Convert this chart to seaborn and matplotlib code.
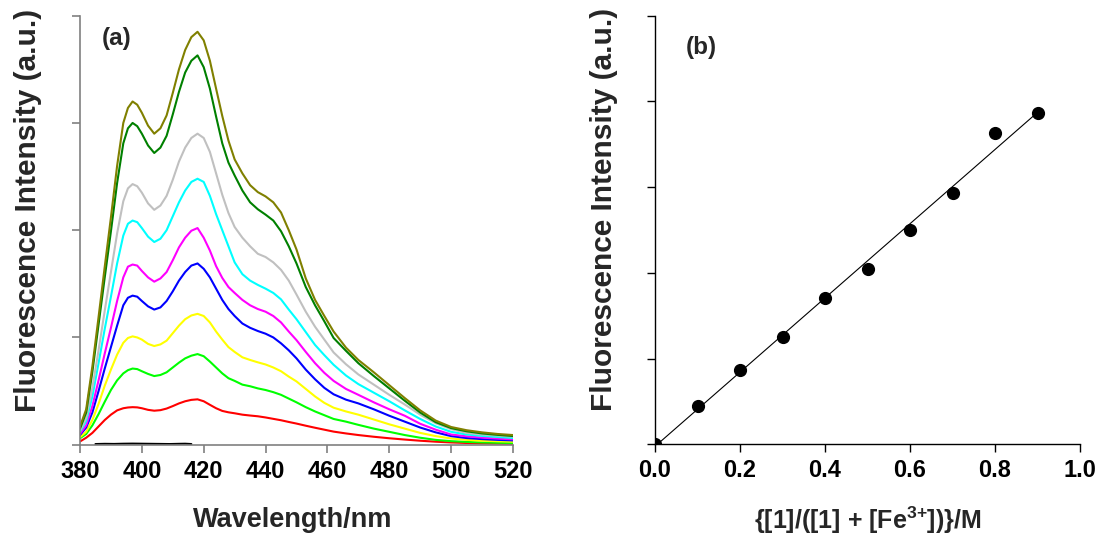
import numpy as np
import pandas as pd
import matplotlib
matplotlib.use("Agg")
import matplotlib.pyplot as plt
import seaborn as sns

# ---------------- data ----------------
# emission wavelengths (nm)
wavelength = [380, 382, 384, 386, 388, 390, 392, 394, 395.5, 397,
              398.5, 400, 402, 404, 406, 408, 410, 412, 414, 416, 418,
              420, 422, 424, 426, 428, 430, 432.5, 435, 437.5, 440,
              442.5, 445, 447.5, 450, 453, 456, 459, 462, 466, 470,
              475, 480, 485, 490, 495, 500, 505, 510, 515, 520]

# emission spectra at each mole fraction of [1]
em_01 = [0.03, 0.065, 0.11, 0.17, 0.23, 0.28, 0.32, 0.34, 0.347, 0.35,
         0.348, 0.34, 0.325, 0.317, 0.322, 0.337, 0.36, 0.385, 0.405, 0.418, 0.423,
         0.405, 0.372, 0.34, 0.315, 0.302, 0.293, 0.28, 0.272, 0.265, 0.254,
         0.241, 0.228, 0.212, 0.197, 0.177, 0.158, 0.14, 0.122, 0.105, 0.09,
         0.074, 0.06, 0.048, 0.037, 0.028, 0.021, 0.016, 0.012, 0.010, 0.008]
em_02 = [0.06, 0.10, 0.18, 0.285, 0.40, 0.51, 0.60, 0.665, 0.695, 0.71,
         0.705, 0.685, 0.66, 0.64, 0.65, 0.675, 0.72, 0.765, 0.805, 0.83, 0.845,
         0.825, 0.775, 0.72, 0.665, 0.62, 0.595, 0.56, 0.545, 0.525, 0.51,
         0.49, 0.465, 0.43, 0.395, 0.35, 0.31, 0.275, 0.24, 0.215, 0.185,
         0.15, 0.12, 0.09, 0.065, 0.045, 0.033, 0.026, 0.021, 0.018, 0.016]
em_03 = [0.07, 0.12, 0.23, 0.38, 0.55, 0.70, 0.84, 0.95, 0.995, 1.01,
         1.0, 0.98, 0.94, 0.92, 0.935, 0.97, 1.04, 1.11, 1.17, 1.205, 1.22,
         1.20, 1.14, 1.055, 0.98, 0.91, 0.865, 0.815, 0.79, 0.768, 0.748,
         0.72, 0.685, 0.635, 0.59, 0.52, 0.45, 0.39, 0.345, 0.31, 0.28,
         0.235, 0.19, 0.15, 0.11, 0.08, 0.058, 0.045, 0.037, 0.032, 0.028]
em_04 = [0.09, 0.16, 0.30, 0.50, 0.71, 0.91, 1.11, 1.30, 1.37, 1.39,
         1.38, 1.34, 1.29, 1.26, 1.28, 1.34, 1.43, 1.53, 1.61, 1.67, 1.69,
         1.64, 1.56, 1.455, 1.35, 1.265, 1.20, 1.13, 1.09, 1.06, 1.035,
         1.00, 0.945, 0.88, 0.805, 0.70, 0.61, 0.53, 0.47, 0.42, 0.385,
         0.33, 0.27, 0.215, 0.16, 0.115, 0.08, 0.062, 0.052, 0.045, 0.04]
em_05 = [0.10, 0.18, 0.36, 0.60, 0.85, 1.09, 1.34, 1.56, 1.66, 1.68,
         1.67, 1.62, 1.56, 1.52, 1.55, 1.61, 1.72, 1.84, 1.93, 1.995, 2.02,
         1.93, 1.81, 1.665, 1.555, 1.47, 1.415, 1.35, 1.30, 1.265, 1.24,
         1.20, 1.14, 1.055, 0.975, 0.865, 0.76, 0.67, 0.595, 0.52, 0.465,
         0.395, 0.33, 0.27, 0.195, 0.14, 0.095, 0.078, 0.066, 0.057, 0.05]
em_06 = [0.12, 0.22, 0.45, 0.76, 1.08, 1.38, 1.69, 1.95, 2.06, 2.09,
         2.075, 2.02, 1.94, 1.89, 1.92, 2.00, 2.13, 2.26, 2.37, 2.45, 2.48,
         2.45, 2.32, 2.15, 2.00, 1.85, 1.70, 1.59, 1.53, 1.49, 1.455,
         1.415, 1.355, 1.26, 1.17, 1.05, 0.93, 0.835, 0.745, 0.645, 0.565,
         0.485, 0.405, 0.32, 0.24, 0.17, 0.12, 0.095, 0.082, 0.072, 0.062]
em_07 = [0.13, 0.25, 0.53, 0.88, 1.25, 1.61, 1.97, 2.27, 2.39, 2.43,
         2.41, 2.35, 2.25, 2.19, 2.23, 2.32, 2.47, 2.64, 2.77, 2.86, 2.90,
         2.86, 2.73, 2.53, 2.33, 2.16, 2.03, 1.93, 1.85, 1.78, 1.75,
         1.70, 1.63, 1.53, 1.40, 1.24, 1.10, 0.98, 0.86, 0.75, 0.655,
         0.56, 0.465, 0.375, 0.28, 0.20, 0.145, 0.11, 0.095, 0.085, 0.075]
em_08 = [0.15, 0.30, 0.68, 1.12, 1.56, 1.99, 2.44, 2.81, 2.95, 3.00,
         2.97, 2.90, 2.79, 2.72, 2.77, 2.88, 3.08, 3.29, 3.47, 3.58, 3.63,
         3.52, 3.32, 3.06, 2.81, 2.63, 2.51, 2.37, 2.26, 2.195, 2.145,
         2.09, 1.99, 1.85, 1.69, 1.47, 1.30, 1.15, 0.995, 0.875, 0.76,
         0.64, 0.525, 0.41, 0.30, 0.21, 0.155, 0.125, 0.105, 0.092, 0.081]
em_09 = [0.17, 0.33, 0.73, 1.19, 1.66, 2.12, 2.60, 3.00, 3.14, 3.20,
         3.17, 3.095, 2.975, 2.90, 2.95, 3.07, 3.28, 3.50, 3.68, 3.80, 3.85,
         3.77, 3.58, 3.32, 3.065, 2.835, 2.66, 2.53, 2.42, 2.355, 2.315,
         2.26, 2.165, 2.00, 1.82, 1.55, 1.35, 1.20, 1.055, 0.905, 0.79,
         0.675, 0.555, 0.435, 0.32, 0.225, 0.165, 0.135, 0.115, 0.10, 0.09]

# blank (no fluorophore) trace
blank_wavelength = [385, 388, 391, 394, 397, 400, 403, 406, 409, 412, 414, 416]
blank_em = [0.006, 0.008, 0.007, 0.009, 0.010, 0.009, 0.008, 0.007, 0.006, 0.008, 0.009, 0.006]

spectra = [em_01, em_02, em_03, em_04, em_05, em_06, em_07, em_08, em_09]
fraction_labels = ["0.1", "0.2", "0.3", "0.4", "0.5", "0.6", "0.7", "0.8", "0.9"]
line_colors = ["#FF0000", "#00FF00", "#FFFF00", "#0000FF", "#FF00FF",
               "#00FFFF", "#C0C0C0", "#008000", "#808000"]

# Job's plot: mole fraction vs. intensity at 418 nm
mole_fraction = [0.0, 0.1, 0.2, 0.3, 0.4, 0.5, 0.6, 0.7, 0.8, 0.9]
intensity_418 = [0.0, 0.44, 0.87, 1.25, 1.71, 2.04, 2.50, 2.93, 3.63, 3.86]

x_ticks_a = [380, 400, 420, 440, 460, 480, 500, 520]
x_ticks_b = [0.0, 0.2, 0.4, 0.6, 0.8, 1.0]

# ---------------- style ----------------
sns.set_theme(style="ticks")
plt.rcParams["font.family"] = ["Liberation Sans", "DejaVu Sans"]
plt.rcParams["font.weight"] = "bold"
plt.rcParams["mathtext.fontset"] = "custom"
plt.rcParams["mathtext.rm"] = "Liberation Sans:bold"
plt.rcParams["mathtext.it"] = "Liberation Sans:bold"
plt.rcParams["mathtext.bf"] = "Liberation Sans:bold"
plt.rcParams["mathtext.default"] = "bf"

fig = plt.figure(figsize=(11.09, 5.54), dpi=100)
W, H = 1109, 554

def frac_box(left, top, right, bottom):
    return [left / W, 1 - bottom / H, (right - left) / W, (bottom - top) / H]

ax_a = fig.add_axes(frac_box(80, 15.7, 513, 444.7))
ax_b = fig.add_axes(frac_box(655, 15.7, 1080, 444.2))

# ---------------- panel (a) ----------------
long = pd.DataFrame({
    "wavelength": np.tile(wavelength, len(spectra)),
    "intensity": np.concatenate(spectra),
    "fraction": np.repeat(fraction_labels, len(wavelength)),
})
sns.lineplot(data=long, x="wavelength", y="intensity", hue="fraction",
             palette=line_colors, hue_order=fraction_labels, estimator=None,
             sort=False, lw=1.5, legend=False, ax=ax_a)
sns.lineplot(x=blank_wavelength, y=blank_em, color="black", lw=1.5,
             estimator=None, sort=False, ax=ax_a)

ax_a.set_xlim(380, 520)
ax_a.set_ylim(0, 4)
ax_a.set_xticks(x_ticks_a)
ax_a.set_xticklabels([str(t) for t in x_ticks_a])
ax_a.set_yticks([0, 1, 2, 3, 4])
ax_a.set_yticklabels([])
for side in ("left", "bottom"):
    ax_a.spines[side].set_color("#808080")
    ax_a.spines[side].set_linewidth(1.2)
ax_a.tick_params(axis="both", colors="#808080", length=6, width=1.2)
ax_a.tick_params(axis="x", labelcolor="black", labelsize=17, pad=5)
ax_a.set_xlabel("Wavelength/nm", fontsize=19.5, fontweight="bold")
ax_a.set_ylabel("Fluorescence Intensity (a.u.)", fontsize=21.5, fontweight="bold")
ax_a.xaxis.set_label_coords(0.49, -0.145)
ax_a.yaxis.set_label_coords(-0.088, 0.547)
ax_a.text(0.05, 0.948, "(a)", transform=ax_a.transAxes, fontsize=17.5,
          fontweight="bold", ha="left", va="center")
sns.despine(ax=ax_a)

# ---------------- panel (b) ----------------
sns.regplot(x=mole_fraction, y=intensity_418, ci=None, ax=ax_b,
            scatter_kws=dict(s=72, color="black", edgecolor="black", alpha=1, zorder=3),
            line_kws=dict(color="black", lw=0.8))
ax_b.set_xlim(0, 1.0)
ax_b.set_ylim(0, 5)
ax_b.set_xticks(x_ticks_b)
ax_b.set_xticklabels([f"{t:.1f}" for t in x_ticks_b])
ax_b.set_yticks([0, 1, 2, 3, 4, 5])
ax_b.set_yticklabels([])
for side in ("left", "bottom"):
    ax_b.spines[side].set_color("black")
    ax_b.spines[side].set_linewidth(1.0)
ax_b.tick_params(axis="both", colors="black", length=6, width=1.0)
ax_b.tick_params(axis="x", labelsize=17, pad=5)
ax_b.set_xlabel(r"{[1]/([1] + [Fe$^{3{+}}$])}/M", fontsize=18, fontweight="bold")
ax_b.set_ylabel("Fluorescence Intensity (a.u.)", fontsize=21.5, fontweight="bold")
ax_b.xaxis.set_label_coords(0.5, -0.14)
ax_b.yaxis.set_label_coords(-0.088, 0.547)
ax_b.text(0.073, 0.925, "(b)", transform=ax_b.transAxes, fontsize=17.5,
          fontweight="bold", ha="left", va="center")
sns.despine(ax=ax_b)

fig.savefig("out.png", dpi=100)
